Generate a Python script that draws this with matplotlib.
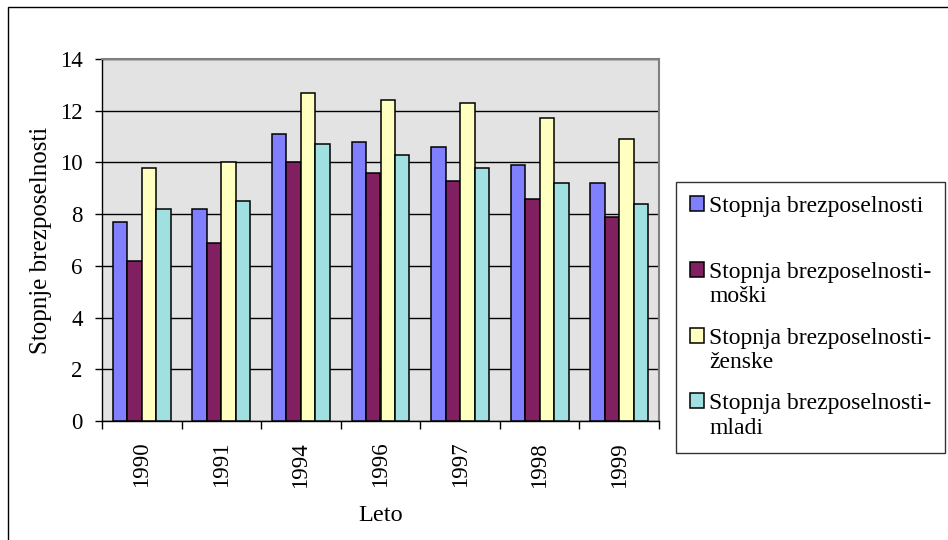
import numpy as np
import matplotlib
matplotlib.use("Agg")
import matplotlib.pyplot as plt
from matplotlib.patches import Rectangle

plt.rcParams['font.family'] = ['Liberation Serif', 'DejaVu Serif']

years = ['1990', '1991', '1994', '1996', '1997', '1998', '1999']
skupaj = [7.7, 8.2, 11.1, 10.8, 10.6, 9.9, 9.2]
moski = [6.2, 6.9, 10.0, 9.6, 9.3, 8.6, 7.9]
zenske = [9.8, 10.0, 12.7, 12.4, 12.3, 11.7, 10.9]
mladi = [8.2, 8.5, 10.7, 10.3, 9.8, 9.2, 8.4]
series = [skupaj, moski, zenske, mladi]
labels = ['Stopnja brezposelnosti\n ',
          'Stopnja brezposelnosti-\nmoški',
          'Stopnja brezposelnosti-\nženske',
          'Stopnja brezposelnosti-\nmladi']
colors = ['#8080FF', '#802060', '#FFFFC0', '#A0E0E0']

W, H = 948, 540
fig = plt.figure(figsize=(W / 100, H / 100), dpi=100)
ax = fig.add_axes([102 / W, 1 - 421 / H, (659 - 102) / W, (421 - 59) / H])
ax.set_facecolor('#E3E3E3')

x = np.arange(len(years))
bw = 0.182
for i, (vals, c, lab) in enumerate(zip(series, colors, labels)):
    ax.bar(x + (i - 1.5) * bw, vals, width=bw, color=c, edgecolor='black',
           linewidth=1.1, label=lab, zorder=3)

ax.set_xlim(-0.5, len(years) - 0.5)
ax.set_ylim(0, 14)
ax.set_yticks(np.arange(0, 15, 2))
ax.yaxis.grid(True, color='black', linewidth=1.0, zorder=1)
ax.set_axisbelow(True)

ax.set_xticks(x)
ax.set_xticklabels(years, rotation=90, fontsize=16.5)
ax.tick_params(axis='x', which='major', length=0, pad=15)
ax.set_xticks(np.arange(-0.5, len(years)), minor=True)
ax.tick_params(axis='x', which='minor', length=6, width=1, direction='out')
ax.tick_params(axis='y', length=5, width=1, direction='out', pad=9, labelsize=16.5)

for s in ['top', 'right']:
    ax.spines[s].set_color('#808080')
    ax.spines[s].set_linewidth(1.5)
for s in ['left', 'bottom']:
    ax.spines[s].set_color('black')
    ax.spines[s].set_linewidth(1.0)

ax.set_ylabel('Stopnje brezposelnosti', fontsize=18)
ax.yaxis.set_label_coords(-0.09, 0.5)
ax.set_xlabel('Leto', fontsize=17.5)
ax.xaxis.set_label_coords(0.5, -0.232)

leg = fig.legend(loc='upper left', bbox_to_anchor=(676 / W, 1 - 182 / H),
                 fontsize=17, frameon=True, fancybox=False, edgecolor='black',
                 borderaxespad=0, handlelength=0.6, handleheight=0.6,
                 handletextpad=0.2, labelspacing=0.87, borderpad=0.6)
leg.get_frame().set_linewidth(1.0)
for col in leg._legend_handle_box.get_children():
    for row in col.get_children():
        row.align = 'top'

fig.patches.append(Rectangle((8 / W, -0.1), 1.2, 1 - 7 / H + 0.1,
                             transform=fig.transFigure, fill=False,
                             edgecolor='black', linewidth=1.0))

fig.savefig('out.png', dpi=100)
